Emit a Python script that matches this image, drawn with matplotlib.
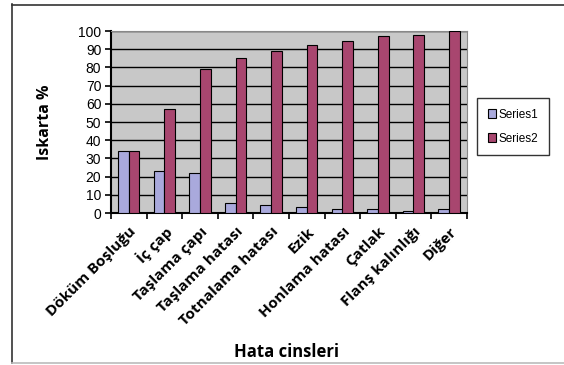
import numpy as np
import matplotlib.pyplot as plt
from matplotlib.lines import Line2D

categories = ['Döküm Boşluğu', 'İç çap', 'Taşlama çapı', 'Taşlama hatası',
              'Totnalama hatası', 'Ezik', 'Honlama hatası', 'Çatlak',
              'Flanş kalınlığı', 'Diğer']
series1 = [34, 23, 22, 5.5, 4.5, 3.5, 2, 2, 1, 2]
series2 = [34, 57, 79, 85, 89, 92.5, 94.5, 97, 98, 100]
yticks = list(range(0, 101, 10))

fig = plt.figure(figsize=(5.64, 3.65), dpi=100)
ax = fig.add_axes([0.1968, 0.4164, 0.631, 0.4986])

x = np.arange(len(categories))
ax.bar(x - 0.15, series1, width=0.3, color='#a9a9dc', edgecolor='black', linewidth=0.8,
       label='Series1', zorder=3)
ax.bar(x + 0.15, series2, width=0.3, color='#a8466f', edgecolor='black', linewidth=0.8,
       label='Series2', zorder=3)

ax.set_facecolor('#c8c8c8')
ax.set_xlim(-0.5, len(categories) - 0.5)
ax.set_ylim(0, 100)
ax.set_yticks(yticks)
ax.yaxis.grid(True, color='black', linewidth=1.0, zorder=1)
ax.set_axisbelow(True)
for s in ['top', 'right']:
    ax.spines[s].set_color('#888888')
    ax.spines[s].set_linewidth(0.8)
ax.spines['left'].set_linewidth(1.5)
ax.spines['bottom'].set_linewidth(1.5)

ax.set_xticks(np.arange(-0.5, len(categories), 1.0))
ax.set_xticklabels([])
ax.tick_params(axis='x', length=4, width=1.2, direction='out')
ax.tick_params(axis='y', length=4, width=1.2, direction='out', labelsize=10, pad=3)
for lab in ax.get_yticklabels():
    lab.set_fontfamily('Liberation Sans')

for i, name in enumerate(categories):
    ax.text(i + 0.15, -9, name, rotation=45, rotation_mode='anchor',
            ha='right', va='center', fontsize=11, fontweight='bold',
            fontfamily='Open Sans', transform=ax.transData, clip_on=False)

fig.text(0.08, 0.665, 'Iskarta %', rotation=90, ha='center', va='center',
         fontsize=11.5, fontweight='bold', fontfamily='Open Sans')
fig.text(0.508, 0.036, 'Hata cinsleri', ha='center', va='center',
         fontsize=12, fontweight='bold', fontfamily='Open Sans')

leg = fig.legend(loc='center', bbox_to_anchor=(0.91, 0.653),
                 handlelength=0.7, handleheight=0.7, handletextpad=0.2,
                 labelspacing=1.0, borderpad=0.9, fancybox=False,
                 edgecolor='black', prop={'family': 'Liberation Sans', 'size': 8.5})
leg.get_frame().set_linewidth(1.0)

# outer chart frame
fig.add_artist(Line2D([0.021, 0.021], [0.005, 0.99], color='#333333', linewidth=1.2))
fig.add_artist(Line2D([0.021, 1.0], [0.987, 0.987], color='#333333', linewidth=1.2))
fig.add_artist(Line2D([0.021, 1.0], [0.006, 0.006], color='#bbbbbb', linewidth=1.2))

fig.savefig('out.png', dpi=100)
